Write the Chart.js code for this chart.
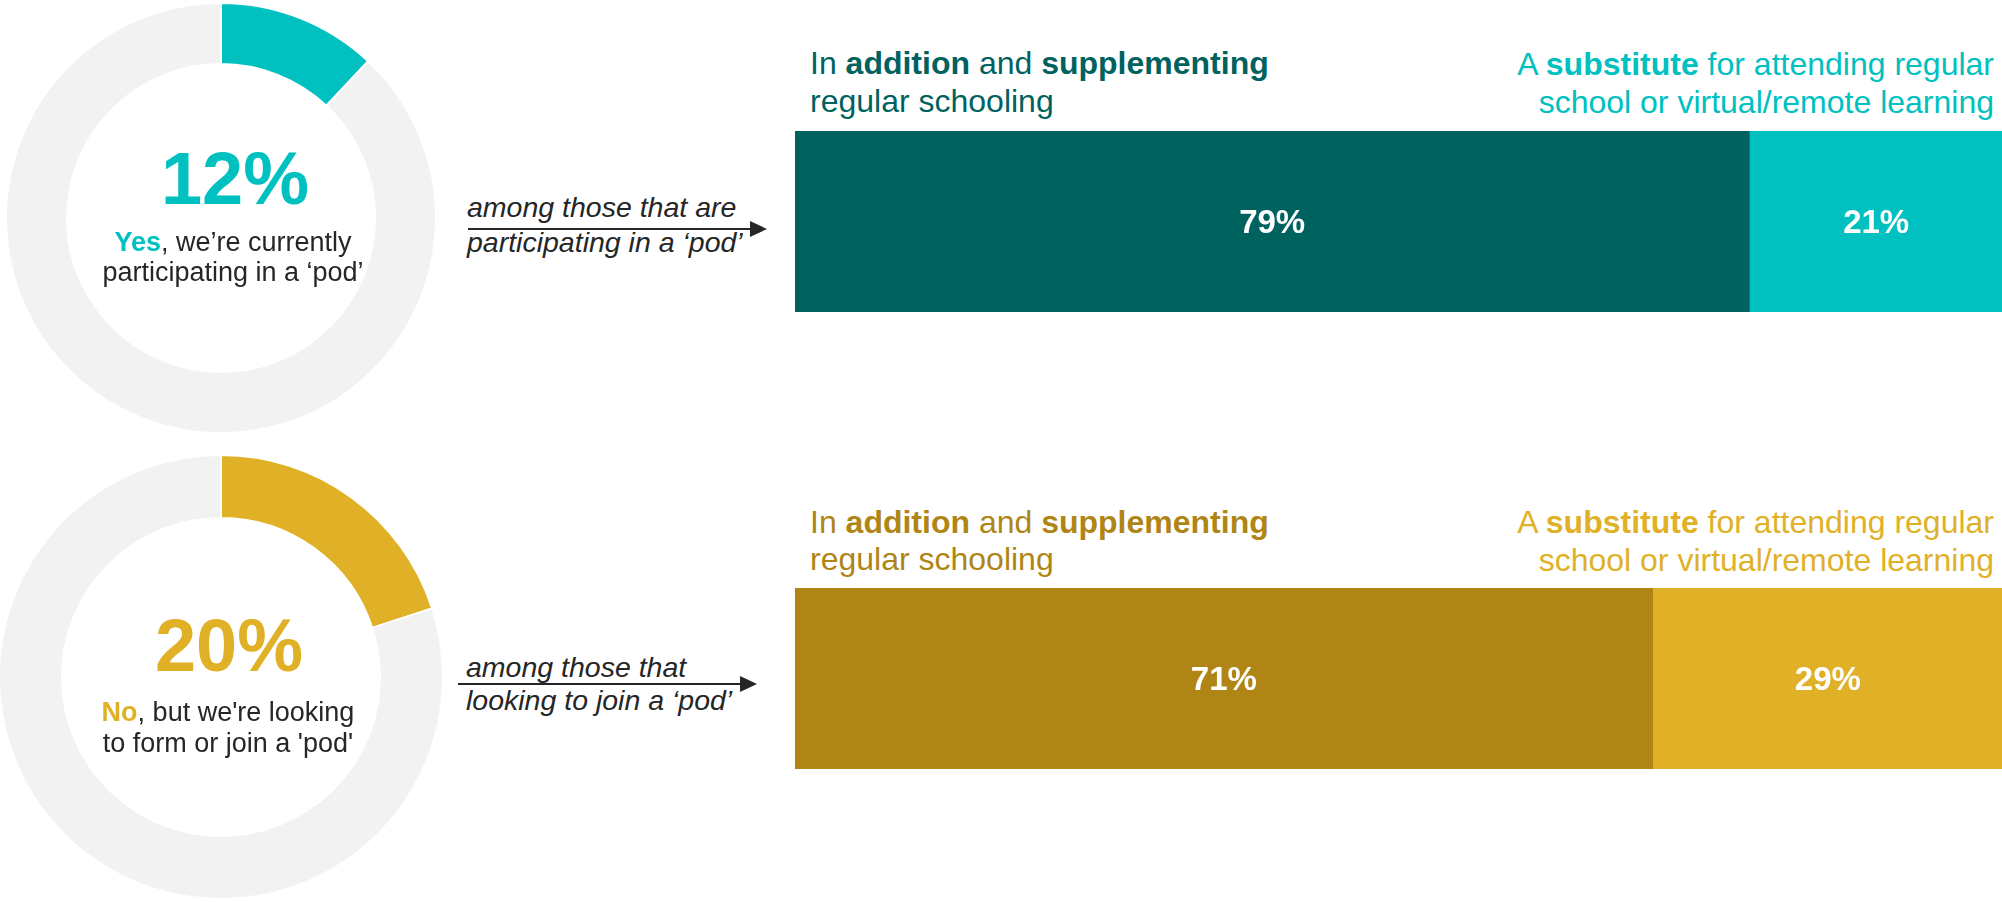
<!DOCTYPE html>
<html>
<head>
<meta charset="utf-8">
<script src="https://cdn.jsdelivr.net/npm/chart.js@4.4.1/dist/chart.umd.min.js"></script>
<style>
  html, body { margin: 0; padding: 0; background: #ffffff; }
  body { width: 2002px; height: 902px; overflow: hidden; position: relative;
         font-family: "Liberation Sans", Arial, Helvetica, sans-serif; color: #262626; }
  canvas { position: absolute; display: block; }
  .t { position: absolute; white-space: nowrap; line-height: 1; }
  .c { transform: translateX(-50%); }
  .big { font-size: 74px; font-weight: bold; }
  .mid { font-size: 27px; }
  .it { font-size: 28.5px; font-style: italic; }
  .hd { font-size: 32px; }
  .hr { font-size: 32px; text-align: right; }
  .line { position: absolute; height: 2px; background: #262626; }
  .head { position: absolute; width: 0; height: 0; border-left: 17px solid #262626;
          border-top: 8px solid transparent; border-bottom: 8px solid transparent; }
</style>
</head>
<body>
<canvas id="donut1" width="432" height="432" style="left:5px; top:2px; width:432px; height:432px;"></canvas>
<canvas id="donut2" width="446" height="446" style="left:-2px; top:454px; width:446px; height:446px;"></canvas>
<canvas id="bar1" width="1208" height="181" style="left:795px; top:131px; width:1208px; height:181px;"></canvas>
<canvas id="bar2" width="1208" height="181" style="left:795px; top:588px; width:1208px; height:181px;"></canvas>

<!-- donut centre texts -->
<div class="t c big" id="num1" style="left:235px; top:142px; color:#00C0C0;"></div>
<div class="t c mid" style="left:233px; top:229px;"><b style="color:#00C0C0;">Yes</b>, we’re currently</div>
<div class="t c mid" style="left:233px; top:259px;">participating in a ‘pod’</div>

<div class="t c big" id="num2" style="left:229px; top:609px; color:#E0B126;"></div>
<div class="t c mid" style="left:228px; top:699px;"><b style="color:#E0B126;">No</b>, but we're looking</div>
<div class="t c mid" style="left:228px; top:730px;">to form or join a 'pod'</div>

<!-- arrows -->
<div class="t it" style="left:467px; top:193px;">among those that are</div>
<div class="t it" style="left:467px; top:228px;">participating in a ‘pod’</div>
<div class="line" style="left:468px; top:228px; width:285px;"></div>
<div class="head" style="left:750px; top:221px;"></div>

<div class="t it" style="left:466px; top:653px;">among those that</div>
<div class="t it" style="left:466px; top:686px;">looking to join a ‘pod’</div>
<div class="line" style="left:458px; top:683px; width:285px;"></div>
<div class="head" style="left:740px; top:676px;"></div>

<!-- series headers -->
<div class="t hd" style="left:810px; top:47px; color:#00625F;">In <b>addition</b> and <b>supplementing</b></div>
<div class="t hd" style="left:810px; top:85px; color:#00625F;">regular schooling</div>
<div class="t hr" style="right:8px; top:48px; color:#00C0C0;">A <b>substitute</b> for attending regular</div>
<div class="t hr" style="right:8px; top:86px; color:#00C0C0;">school or virtual/remote learning</div>

<div class="t hd" style="left:810px; top:506px; color:#AF8515;">In <b>addition</b> and <b>supplementing</b></div>
<div class="t hd" style="left:810px; top:543px; color:#AF8515;">regular schooling</div>
<div class="t hr" style="right:8px; top:506px; color:#E0B126;">A <b>substitute</b> for attending regular</div>
<div class="t hr" style="right:8px; top:544px; color:#E0B126;">school or virtual/remote learning</div>

<script>
// ---------------- data ----------------
const donutCategories = ["Yes, we’re currently participating in a ‘pod’", "No, but we're looking to form or join a 'pod'"];
const donutValues = [12, 20];
const barCategories = ["among those that are participating in a ‘pod’", "among those that looking to join a ‘pod’"];
const seriesLabels = ["In addition and supplementing regular schooling", "A substitute for attending regular school or virtual/remote learning"];
const additionValues = [79, 71];
const substituteValues = [21, 29];

// ---------------- styles ----------------
const FONT = '"Liberation Sans", Arial, Helvetica, sans-serif';
const donutColors = ["#00C0C0", "#E0B126"];
const restColor = "#F2F2F2";
const additionColors = ["#00625F", "#AF8515"];
const substituteColors = ["#00C0C0", "#E0B126"];

Chart.defaults.font.family = FONT;
Chart.defaults.animation = false;

document.getElementById('num1').textContent = donutValues[0] + '%';
document.getElementById('num2').textContent = donutValues[1] + '%';

function makeDonut(id, i) {
  new Chart(document.getElementById(id), {
    type: 'doughnut',
    data: {
      labels: [donutCategories[i], 'Other'],
      datasets: [{
        data: [donutValues[i], 100 - donutValues[i]],
        backgroundColor: [donutColors[i], restColor],
        borderColor: '#ffffff',
        borderWidth: 2,
        hoverOffset: 0
      }]
    },
    options: {
      responsive: false,
      devicePixelRatio: 1,
      cutout: '71.6%',
      layout: { padding: 0 },
      plugins: { legend: { display: false }, tooltip: { enabled: false } },
      events: []
    }
  });
}
makeDonut('donut1', 0);
makeDonut('donut2', 1);

const barLabelPlugin = {
  id: 'barLabels',
  afterDatasetsDraw(chart) {
    const ctx = chart.ctx;
    chart.data.datasets.forEach((ds, di) => {
      const meta = chart.getDatasetMeta(di);
      meta.data.forEach((el, j) => {
        const cx = (el.x + el.base) / 2;
        const cy = el.y;
        ctx.save();
        ctx.fillStyle = '#ffffff';
        ctx.font = 'bold 33px ' + FONT;
        ctx.textAlign = 'center';
        ctx.textBaseline = 'middle';
        ctx.fillText(ds.data[j] + '%', cx, cy + 2);
        ctx.restore();
      });
    });
  }
};

function makeBar(id, i) {
  new Chart(document.getElementById(id), {
    type: 'bar',
    data: {
      labels: [barCategories[i]],
      datasets: [
        { label: seriesLabels[0], data: [additionValues[i]], backgroundColor: additionColors[i], borderWidth: 0 },
        { label: seriesLabels[1], data: [substituteValues[i]], backgroundColor: substituteColors[i], borderWidth: 0 }
      ]
    },
    options: {
      indexAxis: 'y',
      responsive: false,
      devicePixelRatio: 1,
      layout: { padding: 0 },
      datasets: { bar: { barPercentage: 1, categoryPercentage: 1 } },
      scales: {
        x: { stacked: true, min: 0, max: 100, display: false },
        y: { stacked: true, display: false }
      },
      plugins: { legend: { display: false }, tooltip: { enabled: false } },
      events: []
    },
    plugins: [barLabelPlugin]
  });
}
makeBar('bar1', 0);
makeBar('bar2', 1);
</script>
</body>
</html>
